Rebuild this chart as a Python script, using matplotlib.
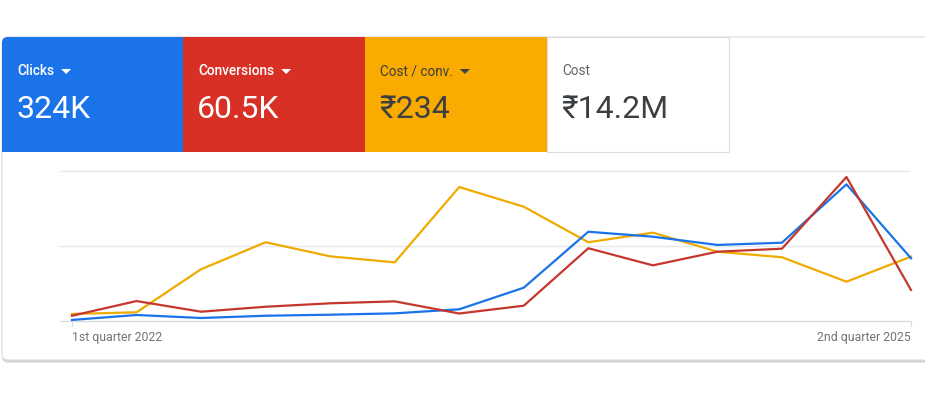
import matplotlib
matplotlib.use("Agg")
import matplotlib.pyplot as plt
from matplotlib.patches import FancyBboxPatch, Rectangle, Polygon

# ---------------- data ----------------
quarters = ["1st quarter 2022", "2nd quarter 2022", "3rd quarter 2022", "4th quarter 2022",
            "1st quarter 2023", "2nd quarter 2023", "3rd quarter 2023", "4th quarter 2023",
            "1st quarter 2024", "2nd quarter 2024", "3rd quarter 2024", "4th quarter 2024",
            "1st quarter 2025", "2nd quarter 2025"]
# relative values (share of chart height, %)
clicks = [0.7, 4.0, 2.0, 3.5, 4.2, 5.1, 7.8, 22.2, 59.5, 56.2, 50.7, 52.2, 91.1, 41.8]
conversions = [3.5, 13.3, 6.2, 9.5, 11.8, 13.1, 5.0, 10.2, 48.5, 37.1, 46.2, 48.2, 96.0, 20.7]
cost_per_conv = [4.7, 5.8, 34.5, 52.5, 43.1, 39.1, 89.3, 76.2, 52.5, 58.9, 46.2, 42.5, 26.2, 42.9]

tile_labels = ["Clicks", "Conversions", "Cost / conv.", "Cost"]
tile_values = ["324K", "60.5K", "₹234", "₹14.2M"]
tile_dropdown = [True, True, True, False]

BLUE, RED, YELLOW = "#1a73e8", "#d93025", "#f9ab00"
LINE_BLUE, LINE_RED, LINE_YELLOW = "#1a73e8", "#c5372c", "#f0aa00"
FONT = ["Roboto", "Noto Sans", "DejaVu Sans"]

W, H = 925, 400
fig = plt.figure(figsize=(W / 100, H / 100), dpi=100)
fig.patch.set_facecolor("white")

# background axes in pixel coordinates (y downward)
bg = fig.add_axes([0, 0, 1, 1])
bg.set_xlim(0, W)
bg.set_ylim(H, 0)
bg.axis("off")

# card shadow + card
bg.add_patch(FancyBboxPatch((2, 38.5), 960, 324, boxstyle="round,pad=0,rounding_size=6",
                            facecolor="#d0d2d5", edgecolor="none", zorder=1))
bg.add_patch(FancyBboxPatch((2, 37), 960, 323, boxstyle="round,pad=0,rounding_size=6",
                            facecolor="white", edgecolor="#dadce0", linewidth=0.8, zorder=2))

# tiles
tile_x = [2, 183, 365, 547]
tile_w = [181, 182, 182, 182]
tile_colors = [BLUE, RED, YELLOW, "white"]
label_colors = ["white", "white", "#3c4043", "#5f6368"]
value_colors = ["white", "white", "#3c4043", "#3c4043"]
label_weights = ["medium", "medium", "normal", "normal"]
top, bottom = 37, 152
for i in range(4):
    x0, w = tile_x[i], tile_w[i]
    if i == 0:
        bg.add_patch(FancyBboxPatch((x0, top), w, bottom - top,
                                    boxstyle="round,pad=0,rounding_size=6",
                                    facecolor=BLUE, edgecolor="none", zorder=3))
        bg.add_patch(Rectangle((x0 + 10, top), w - 10, bottom - top, facecolor=BLUE,
                               edgecolor="none", zorder=3))
        bg.add_patch(Rectangle((x0, top + 10), w, bottom - top - 10, facecolor=BLUE,
                               edgecolor="none", zorder=3))
    elif i < 3:
        bg.add_patch(Rectangle((x0, top), w, bottom - top, facecolor=tile_colors[i],
                               edgecolor="none", zorder=3))
    else:
        bg.add_patch(Rectangle((x0, top), w, bottom - top, facecolor="white",
                               edgecolor="#dadce0", linewidth=0.8, zorder=3))
    tx = x0 + 15
    t = bg.text(tx, 71, tile_labels[i], color=label_colors[i], fontsize=9.8,
                family=FONT, va="center", ha="left", zorder=5,
                fontweight=label_weights[i])
    bg.text(tx - 1, 109, tile_values[i], color=value_colors[i], fontsize=23,
            family=FONT, va="center", ha="left", zorder=5)
    if tile_dropdown[i]:
        fig.canvas.draw()
        bb = t.get_window_extent()
        ax_x = bb.x1 + 7
        tri = Polygon([(ax_x, 69), (ax_x + 10, 69), (ax_x + 5, 74)], closed=True,
                      facecolor=label_colors[i], edgecolor="none", zorder=5)
        bg.add_patch(tri)

# ---------------- chart axes ----------------
left_px, right_px = 60, 911
first_px = 72
top_px, bot_px = 160, 330
grid_top, grid_bot = 171, 321
ax = fig.add_axes([left_px / W, 1 - bot_px / H, (right_px - left_px) / W, (bot_px - top_px) / H])
ax.set_facecolor("none")
n = len(quarters)
step = (right_px - first_px) / (n - 1)
ax.set_xlim(-(first_px - left_px) / step, n - 1)
per_px = 100 / (grid_bot - grid_top)
ax.set_ylim(-(bot_px - grid_bot) * per_px, 100 + (grid_top - top_px) * per_px)
for s in ax.spines.values():
    s.set_visible(False)
for g in (50, 100):
    ax.axhline(g, color="#e6e8eb", linewidth=1.0, zorder=1)
ax.axhline(0, color="#dadce0", linewidth=1.0, zorder=1)

xs = list(range(n))
ax.plot(xs, cost_per_conv, color=LINE_YELLOW, linewidth=1.6, zorder=3, clip_on=False)
ax.plot(xs, clicks, color=LINE_BLUE, linewidth=1.6, zorder=4, clip_on=False)
ax.plot(xs, conversions, color=LINE_RED, linewidth=1.6, zorder=5, clip_on=False)

ax.set_yticks([])
ax.set_xticks([0, n - 1])
ax.set_xticklabels([quarters[0], quarters[-1]], family=FONT, fontsize=8.8, color="#70757a")
# ticks start at the baseline (axes bottom is below it), so shift labels via offset
ax.tick_params(axis="x", length=0, pad=0)
lbls = ax.get_xticklabels()
lbls[0].set_ha("left")
lbls[1].set_ha("right")
for xi in (0, n - 1):
    ax.plot([xi, xi], [0, -4.5 * per_px], color="#dadce0", linewidth=0.8, zorder=1, clip_on=False)
for lb in lbls:
    lb.set_va("center")
import matplotlib.transforms as mtransforms
offset = mtransforms.ScaledTranslation(0, 0, fig.dpi_scale_trans)
for lb in lbls:
    lb.set_transform(mtransforms.blended_transform_factory(ax.transData, bg.transData))
    lb.set_y(338)

fig.savefig("out.png", dpi=100, facecolor="white")
